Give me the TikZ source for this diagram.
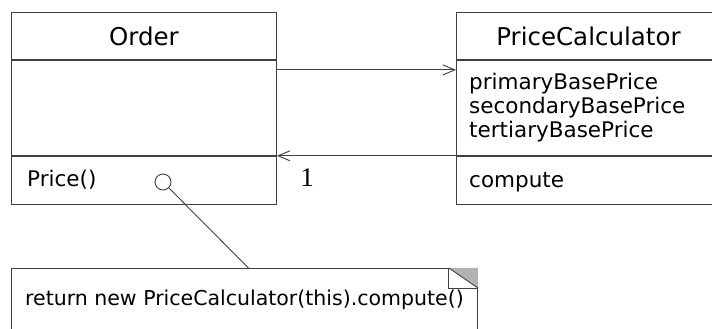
\documentclass[tikz,border=0pt]{standalone}
\usepackage{fontspec}
\setmainfont{DejaVu Sans}
\newfontfamily\numfont{Liberation Serif}
\usetikzlibrary{arrows.meta}
\usetikzlibrary{positioning}
\tikzset{
    umlline/.style={draw=black!75, line width=0.9pt},
    compartment/.style={umlline, rectangle, inner sep=0pt, anchor=north west},
    titletext/.style={font=\fontsize{24.5}{29}\selectfont},
    membertext/.style={font=\fontsize{21.5}{24}\selectfont, anchor=north west, inner sep=0pt, align=left},
    assoc/.style={umlline, -{Straight Barb[length=12pt, width=10pt, line width=0.9pt]}}}

\begin{document}
\begin{tikzpicture}[x=1pt, y=1pt]
                    \clip (0,0) rectangle (712,329);

                    % class Order
                    \node[compartment, titletext, minimum width=265pt, minimum height=47pt] (otitle) at (11,317) {Order};
                    \node[compartment, minimum width=265pt, minimum height=95pt] (oattr) at (otitle.south west) {};
                    \node[compartment, minimum width=265pt, minimum height=48pt] (oops) at (oattr.south west) {};
                    \node[membertext, anchor=west] (oprice) at ([xshift=16pt]oops.west) {Price()};
                    \node[shape=circle, umlline, minimum size=16pt, inner sep=0pt] (hook) at (163,147) {};

                    % class PriceCalculator
                    \node[compartment, titletext, minimum width=264pt, minimum height=47pt] (ptitle) at (456,317) {PriceCalculator};
                    \node[compartment, minimum width=264pt, minimum height=95pt] (pattr) at (ptitle.south west) {};
                    \node[compartment, minimum width=264pt, minimum height=48pt] (pops) at (pattr.south west) {};
                    \node[membertext] (pfields) at ([xshift=13pt, yshift=-13pt]pattr.north west) {primaryBasePrice\\secondaryBasePrice\\tertiaryBasePrice};
                    \node[membertext, anchor=west] (pcompute) at ([xshift=13pt, yshift=-2pt]pops.west) {compute};

                    % associations
                    \draw[assoc] ([yshift=-10pt]oattr.north east) -- ([yshift=-10pt]pattr.north west);
                    \draw[assoc] (pattr.south west) -- (oattr.south east);
                    \node[font=\numfont\fontsize{27}{30}\selectfont, inner sep=0pt] (mult) at (307,151) {1};

                    % note
                    \node[compartment, minimum width=466pt, minimum height=80pt] (note) at (11,61) {};
                    \node[membertext, font=\fontsize{20.5}{24}\selectfont, anchor=center] (notetext) at ([yshift=-32pt]note.north) {return new PriceCalculator(this).compute()};
                    \coordinate (fold) at ([xshift=-29pt]note.north east);
                    \coordinate (foldlow) at ([yshift=-20pt]note.north east);
                    \fill[black!30] (fold) -- (note.north east) -- (foldlow) -- cycle;
                    \draw[umlline] (fold) |- (foldlow);
                    \draw[umlline] (fold) -- (foldlow);
                    \draw[umlline] (hook) -- ([xshift=4pt]note.north);

\end{tikzpicture}
\end{document}
